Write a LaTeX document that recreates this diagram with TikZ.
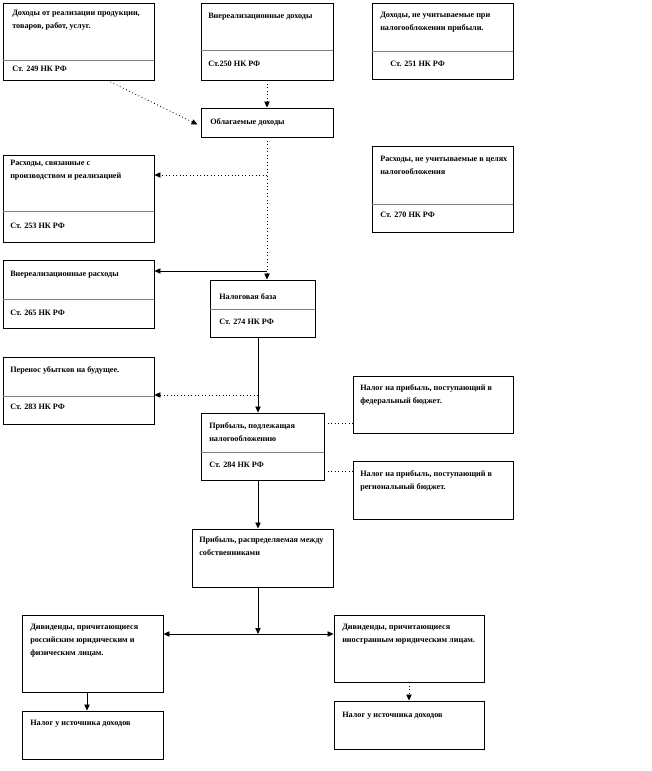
\documentclass[tikz,border=0pt]{standalone}
\usepackage{fontspec}
\setmainfont{Liberation Serif}
\usetikzlibrary{calc,fit,arrows.meta}

\begin{document}
\begin{tikzpicture}[x=0.75pt,y=-0.75pt,
    blok/.style={draw, line width=0.7pt, inner sep=0pt},
    tekst/.style={anchor=north west, inner sep=0pt, align=left, font=\fontsize{6.15}{9.75}\selectfont\bfseries},
    strelka/.style={-{Triangle[length=4.5pt,width=4pt]}, line width=0.6pt},
    punktir/.style={dotted, line width=0.6pt},
    cherta/.style={gray, line width=0.7pt}]
    \useasboundingbox (0,0) rectangle (651,771);
    %ДОХОДЫ 249
    \node[blok, fit={(3,3) (154,80)}] (D249) {};
    \draw[cherta] (D249.west |- 0,60) -- (D249.east |- 0,60);
    \node[tekst] (D249a) at (12,10) {Доходы от реализации продукции,\\товаров, работ, услуг.};
    \node[tekst] (D249b) at (12,66) {Ст. 249 НК РФ};
    %ДОХОДЫ 250
    \node[blok, fit={(201,3) (333,80)}] (D250) {};
    \draw[cherta] (D250.west |- 0,50) -- (D250.east |- 0,50);
    \node[tekst] (D250a) at (208,13) {Внереализационные доходы};
    \node[tekst] (D250b) at (208,61) {Ст.250 НК РФ};
    %ДОХОДЫ 251
    \node[blok, fit={(372,3) (513,79)}] (D251) {};
    \draw[cherta] (D251.west |- 0,51) -- (D251.east |- 0,51);
    \node[tekst] (D251a) at (380,12) {Доходы, не учитываемые при\\налогообложении прибыли.};
    \node[tekst] (D251b) at (390,61) {Ст. 251 НК РФ};
    %ОБЛАГАЕМЫЕ
    \node[blok, fit={(201,108) (333,137)}] (OBL) {};
    \node[tekst] (OBLa) at (210,118) {Облагаемые доходы};
    %РАСХОДЫ 253
    \node[blok, fit={(3,155) (154,242)}] (R253) {};
    \draw[cherta] (R253.west |- 0,211) -- (R253.east |- 0,211);
    \node[tekst] (R253a) at (10,160) {Расходы, связанные с\\производством и реализацией};
    \node[tekst] (R253b) at (10,223) {Ст. 253 НК РФ};
    %РАСХОДЫ 270
    \node[blok, fit={(372,146) (513,232)}] (R270) {};
    \draw[cherta] (R270.west |- 0,204) -- (R270.east |- 0,204);
    \node[tekst] (R270a) at (380,156) {Расходы, не учитываемые в целях\\налогообложения};
    \node[tekst] (R270b) at (380,212) {Ст. 270 НК РФ};
    %РАСХОДЫ 265
    \node[blok, fit={(3,260) (154,328)}] (R265) {};
    \draw[cherta] (R265.west |- 0,299) -- (R265.east |- 0,299);
    \node[tekst] (R265a) at (10,271) {Внереализационные расходы};
    \node[tekst] (R265b) at (10,310) {Ст. 265 НК РФ};
    %БАЗА
    \node[blok, fit={(210,280) (315,337)}] (BAZA) {};
    \draw[cherta] (BAZA.west |- 0,309) -- (BAZA.east |- 0,309);
    \node[tekst] (BAZAa) at (219,293) {Налоговая база};
    \node[tekst] (BAZAb) at (219,319) {Ст. 274 НК РФ};
    %УБЫТКИ 283
    \node[blok, fit={(3,357) (154,424)}] (U283) {};
    \draw[cherta] (U283.west |- 0,396) -- (U283.east |- 0,396);
    \node[tekst] (U283a) at (10,366) {Перенос убытков на будущее.};
    \node[tekst] (U283b) at (10,404) {Ст. 283 НК РФ};
    %ПРИБЫЛЬ 284
    \node[blok, fit={(201,413) (324,480)}] (P284) {};
    \draw[cherta] (P284.west |- 0,452) -- (P284.east |- 0,452);
    \node[tekst] (P284a) at (209,422) {Прибыль, подлежащая\\налогообложению};
    \node[tekst] (P284b) at (209,462) {Ст. 284 НК РФ};
    %БЮДЖЕТЫ
    \node[blok, fit={(353,376) (513,433)}] (FED) {};
    \node[tekst] (FEDa) at (360,384) {Налог на прибыль, поступающий в\\федеральный бюджет.};
    \node[blok, fit={(353,461) (513,519)}] (REG) {};
    \node[tekst] (REGa) at (360,470) {Налог на прибыль, поступающий в\\региональный бюджет.};
    %РАСПРЕДЕЛЯЕМАЯ
    \node[blok, fit={(192,529) (333,587)}] (RASP) {};
    \node[tekst] (RASPa) at (199,536) {Прибыль, распределяемая между\\собственниками};
    %ДИВИДЕНДЫ
    \node[blok, fit={(22,615) (163,692)}] (DIVR) {};
    \node[tekst] (DIVRa) at (30,624) {Дивиденды, причитающиеся\\российским юридическим и\\физическим лицам.};
    \node[blok, fit={(334,615) (484,682)}] (DIVI) {};
    \node[tekst] (DIVIa) at (342,624) {Дивиденды, причитающиеся\\иностранным юридическим лицам.};
    %НАЛОГ У ИСТОЧНИКА
    \node[blok, fit={(22,711) (163,759)}] (NR) {};
    \node[tekst] (NRa) at (30,720) {Налог у источника доходов};
    \node[blok, fit={(334,701) (484,749)}] (NI) {};
    \node[tekst] (NIa) at (342,712) {Налог у источника доходов};
    %СТРЕЛКИ
    \coordinate (OS) at (258,0);
    \draw[punktir, strelka] ($(D249.south west)!0.69!(D249.south east)$) -- ($(OBL.west)+(-3,2)$);
    \draw[punktir, strelka] (D250.south) -- (OBL.north);
    \draw[punktir, strelka] (OBL.south) -- (OBL.south |- BAZA.north);
    \coordinate (V1) at (OBL.south |- 0,175);
    \draw[punktir, strelka] (V1) -- (V1 -| R253.east);
    \coordinate (V2) at (OBL.south |- 0,271);
    \draw[strelka] (V2) -- (V2 -| R265.east);
    \draw[strelka] (BAZA.south -| OS) -- (P284.north -| OS);
    \coordinate (V3) at (OS |- 0,395);
    \draw[punktir, strelka] (V3) -- (V3 -| U283.east);
    \coordinate (V4) at (P284.east |- 0,423);
    \draw[punktir] (V4) -- (V4 -| FED.west);
    \coordinate (V5) at (P284.east |- 0,471);
    \draw[punktir] (V5) -- (V5 -| REG.west);
    \draw[strelka] (P284.south -| OS) -- (RASP.north -| OS);
    \coordinate (UZEL) at (OS |- 0,634);
    \draw[strelka] (RASP.south -| OS) -- (UZEL);
    \draw[strelka] (UZEL) -- (UZEL -| DIVR.east);
    \draw[strelka] (UZEL) -- (UZEL -| DIVI.west);
    \draw[strelka] (DIVR.south -| 87,0) -- (NR.north -| 87,0);
    \draw[punktir, strelka] (DIVI.south) -- (NI.north);
\end{tikzpicture}
\end{document}
